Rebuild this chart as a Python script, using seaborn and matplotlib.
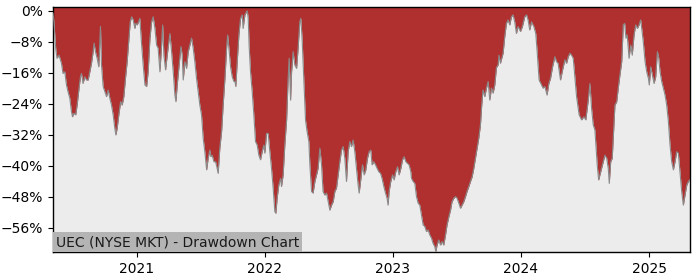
import numpy as np
import pandas as pd
import matplotlib
matplotlib.use("Agg")
import matplotlib.pyplot as plt
import matplotlib.ticker as mticker
import seaborn as sns

title_text = "UEC (NYSE MKT) - Drawdown Chart"
year_ticks = [2021, 2022, 2023, 2024, 2025]
dd_ticks = [0, -8, -16, -24, -32, -40, -48, -56]

# time as decimal year, drawdown in percent
t_years = [
    2020.346, 2020.348, 2020.352, 2020.367, 2020.377, 2020.393, 2020.412, 2020.424, 2020.438, 2020.451,
    2020.463, 2020.477, 2020.490, 2020.498, 2020.508, 2020.523, 2020.534, 2020.549, 2020.560, 2020.568,
    2020.580, 2020.594, 2020.607, 2020.620, 2020.633, 2020.646, 2020.659, 2020.666, 2020.677, 2020.690,
    2020.703, 2020.711, 2020.716, 2020.724, 2020.737, 2020.750, 2020.763, 2020.776, 2020.789, 2020.802,
    2020.815, 2020.828, 2020.836, 2020.846, 2020.859, 2020.873, 2020.885, 2020.898, 2020.912, 2020.924,
    2020.938, 2020.948, 2020.959, 2020.971, 2020.984, 2020.992, 2021.002, 2021.013, 2021.023, 2021.037,
    2021.049, 2021.063, 2021.076, 2021.088, 2021.102, 2021.115, 2021.127, 2021.141, 2021.154, 2021.166,
    2021.180, 2021.193, 2021.201, 2021.211, 2021.224, 2021.237, 2021.250, 2021.258, 2021.271, 2021.284,
    2021.297, 2021.305, 2021.315, 2021.330, 2021.344, 2021.354, 2021.362, 2021.375, 2021.388, 2021.401,
    2021.414, 2021.427, 2021.440, 2021.453, 2021.466, 2021.479, 2021.492, 2021.505, 2021.518, 2021.531,
    2021.545, 2021.557, 2021.570, 2021.578, 2021.588, 2021.602, 2021.615, 2021.627, 2021.635, 2021.648,
    2021.662, 2021.674, 2021.688, 2021.701, 2021.709, 2021.719, 2021.732, 2021.745, 2021.758, 2021.766,
    2021.773, 2021.784, 2021.797, 2021.810, 2021.823, 2021.830, 2021.844, 2021.857, 2021.863, 2021.870,
    2021.877, 2021.888, 2021.901, 2021.914, 2021.927, 2021.940, 2021.953, 2021.966, 2021.979, 2021.992,
    2022.000, 2022.013, 2022.026, 2022.039, 2022.052, 2022.065, 2022.078, 2022.086, 2022.096, 2022.109,
    2022.123, 2022.130, 2022.143, 2022.156, 2022.170, 2022.182, 2022.190, 2022.201, 2022.209, 2022.221,
    2022.234, 2022.248, 2022.260, 2022.273, 2022.281, 2022.291, 2022.305, 2022.318, 2022.330, 2022.344,
    2022.352, 2022.365, 2022.377, 2022.391, 2022.404, 2022.416, 2022.430, 2022.443, 2022.455, 2022.469,
    2022.482, 2022.495, 2022.508, 2022.521, 2022.534, 2022.547, 2022.560, 2022.573, 2022.586, 2022.599,
    2022.612, 2022.625, 2022.638, 2022.651, 2022.664, 2022.677, 2022.690, 2022.703, 2022.716, 2022.729,
    2022.737, 2022.748, 2022.763, 2022.776, 2022.789, 2022.802, 2022.815, 2022.828, 2022.838, 2022.852,
    2022.865, 2022.877, 2022.891, 2022.904, 2022.916, 2022.930, 2022.943, 2022.955, 2022.963, 2022.971,
    2022.984, 2022.998, 2023.010, 2023.023, 2023.037, 2023.049, 2023.063, 2023.076, 2023.088, 2023.102,
    2023.115, 2023.127, 2023.141, 2023.146, 2023.159, 2023.172, 2023.185, 2023.198, 2023.211, 2023.224,
    2023.237, 2023.250, 2023.263, 2023.276, 2023.289, 2023.302, 2023.315, 2023.328, 2023.336, 2023.346,
    2023.359, 2023.373, 2023.385, 2023.398, 2023.412, 2023.424, 2023.438, 2023.451, 2023.463, 2023.477,
    2023.490, 2023.502, 2023.516, 2023.529, 2023.541, 2023.555, 2023.568, 2023.580, 2023.594, 2023.607,
    2023.620, 2023.633, 2023.646, 2023.659, 2023.672, 2023.685, 2023.695, 2023.705, 2023.719, 2023.732,
    2023.745, 2023.758, 2023.771, 2023.784, 2023.797, 2023.810, 2023.823, 2023.830, 2023.841, 2023.862,
    2023.875, 2023.888, 2023.901, 2023.914, 2023.927, 2023.940, 2023.953, 2023.966, 2023.979, 2023.998,
    2024.013, 2024.031, 2024.045, 2024.057, 2024.070, 2024.084, 2024.102, 2024.117, 2024.127, 2024.143,
    2024.162, 2024.174, 2024.188, 2024.205, 2024.219, 2024.232, 2024.248, 2024.266, 2024.279, 2024.291,
    2024.310, 2024.326, 2024.344, 2024.357, 2024.370, 2024.383, 2024.396, 2024.409, 2024.422, 2024.435,
    2024.455, 2024.474, 2024.492, 2024.507, 2024.526, 2024.539, 2024.552, 2024.565, 2024.578, 2024.586,
    2024.596, 2024.607, 2024.617, 2024.630, 2024.643, 2024.656, 2024.670, 2024.682, 2024.690, 2024.701,
    2024.713, 2024.721, 2024.734, 2024.748, 2024.760, 2024.773, 2024.787, 2024.799, 2024.810, 2024.820,
    2024.830, 2024.844, 2024.857, 2024.869, 2024.883, 2024.896, 2024.909, 2024.922, 2024.935, 2024.943,
    2024.955, 2024.969, 2024.982, 2024.995, 2025.002, 2025.013, 2025.026, 2025.039, 2025.052, 2025.065,
    2025.076, 2025.086, 2025.099, 2025.112, 2025.125, 2025.138, 2025.151, 2025.164, 2025.177, 2025.190,
    2025.203, 2025.216, 2025.229, 2025.242, 2025.255, 2025.268, 2025.281, 2025.295, 2025.307, 2025.320,
]

drawdown_pct = [
    -0.5,
    -1.0, -2.3, -9.6, -12.2, -11.4, -13.5, -16.1, -15.7, -19.1, -20.8,
    -22.5, -26.0, -27.3, -26.4, -26.8, -24.3, -19.9, -17.0, -16.1, -18.7,
    -17.0, -17.8, -17.8, -15.7, -13.5, -10.5, -8.3, -10.5, -12.2, -14.4,
    -7.9, -4.0, -13.9, -19.5, -20.8, -22.1, -20.4, -22.5, -24.3, -26.8,
    -30.3, -32.0, -30.3, -26.8, -23.4, -24.3, -22.1, -17.0, -13.1, -7.0,
    -2.8, -1.5, -2.3, -4.5, -3.2, -3.6, -2.8, -1.9, -8.8, -13.9,
    -19.1, -19.5, -15.7, -7.0, -2.8, -1.5, -4.5, -8.8, -9.6, -15.7,
    -8.8, -3.6, -11.4, -15.2, -11.4, -7.9, -5.8, -10.5, -15.7, -21.7,
    -23.4, -19.1, -13.9, -9.2, -11.4, -17.8, -13.1, -14.8, -10.5, -8.8,
    -7.0, -9.6, -13.1, -17.4, -20.8, -24.3, -26.8, -32.8, -36.3, -41.0,
    -38.0, -35.9, -37.6, -37.2, -38.9, -38.9, -40.6, -41.9, -35.4, -31.1,
    -24.3, -17.4, -9.6, -6.2, -9.6, -14.4, -17.0, -18.2, -18.2, -19.5,
    -13.1, -6.2, -1.9, -1.0, -4.5, -1.0, -0.2, 0.0, -1.9, -8.8,
    -15.7, -20.8, -26.8, -33.7, -34.6, -37.2, -38.4, -36.3, -34.6, -36.7,
    -31.6, -31.6, -36.3, -40.6, -45.7, -51.8, -52.2, -48.3, -44.9, -43.2,
    -45.3, -42.3, -34.6, -28.2, -17.4, -12.2, -23.0, -15.7, -10.5, -13.9,
    -14.8, -9.6, -2.8, -1.9, -7.0, -18.2, -28.2, -31.1, -33.7, -39.7,
    -46.6, -47.0, -44.0, -42.3, -40.6, -35.4, -39.7, -46.6, -47.5, -47.0,
    -49.2, -51.4, -50.1, -49.2, -46.6, -45.7, -42.3, -38.9, -35.9, -35.0,
    -38.0, -44.0, -36.3, -33.7, -35.0, -33.3, -36.3, -40.6, -44.9, -47.0,
    -44.0, -39.7, -42.3, -41.0, -38.0, -36.3, -35.9, -39.7, -38.9, -39.7,
    -40.6, -41.5, -41.9, -43.2, -45.3, -47.0, -48.3, -50.1, -46.6, -44.0,
    -42.3, -43.6, -41.5, -40.2, -42.3, -40.6, -38.4, -37.6, -38.9, -39.3,
    -39.7, -41.5, -43.2, -44.0, -44.5, -47.9, -49.6, -50.1, -52.6, -55.2,
    -55.6, -56.9, -56.5, -57.8, -58.6, -60.0, -60.8, -62.1, -60.4, -59.1,
    -60.4, -59.5, -60.4, -57.8, -55.2, -53.1, -51.4, -49.2, -48.3, -47.9,
    -48.3, -49.6, -50.9, -50.1, -49.2, -47.9, -46.6, -45.3, -44.0, -42.8,
    -40.6, -38.0, -35.4, -32.8, -29.4, -24.3, -20.4, -22.1, -19.9, -18.2,
    -23.0, -19.9, -21.2, -19.1, -14.6, -13.9, -11.4, -13.5, -10.9, -6.6,
    -3.2, -2.3, -3.6, -1.5, -1.0, -2.8, -5.8, -4.0, -5.3, -4.0,
    -1.5, -1.0, -2.3, -4.9, -2.8, -4.0, -5.8, -10.1, -17.8, -19.1,
    -19.9, -19.5, -21.7, -18.7, -17.4, -14.4, -11.8, -13.1, -13.5, -17.8,
    -15.2, -12.6, -13.5, -11.8, -10.9, -11.4, -12.2, -17.0, -22.1, -26.8,
    -28.1, -27.3, -28.1, -23.0, -18.7, -25.1, -29.4, -30.7, -34.6, -39.7,
    -43.6, -42.3, -40.6, -38.9, -37.2, -38.0, -40.6, -44.5, -38.9, -38.0,
    -32.8, -24.3, -23.4, -19.9, -16.5, -13.1, -3.6, -3.2, -7.0, -6.2,
    -12.2, -8.8, -11.4, -6.2, -3.6, -4.5, -3.6, -2.3, -4.5, -7.9,
    -13.1, -15.7, -17.4, -19.1, -14.4, -16.5, -18.7, -17.0, -10.5, -12.2,
    -15.7, -18.2, -19.9, -21.7, -24.3, -28.5, -34.6, -38.9, -41.0, -38.9,
    -36.3, -36.7, -41.5, -46.6, -50.1, -47.5, -44.9, -44.0, -43.5,
]


def dec_year_to_dt(y):
    yr = int(np.floor(y))
    start = pd.Timestamp(year=yr, month=1, day=1)
    end = pd.Timestamp(year=yr + 1, month=1, day=1)
    return start + (end - start) * (y - yr)


df = pd.DataFrame({
    "date": [dec_year_to_dt(v) for v in t_years],
    "dd": np.array(drawdown_pct) / 100.0,
})

sns.set_theme(style="ticks")
plt.rcParams["font.family"] = ["DejaVu Sans"]

fig = plt.figure(figsize=(7.0, 2.8), dpi=100)
ax = fig.add_axes([0.0757, 0.10, 0.91, 0.875])
ax.set_facecolor("#ececec")

ax.fill_between(df["date"], df["dd"], 0.05, color="#b03030", linewidth=0, zorder=2)
sns.lineplot(data=df, x="date", y="dd", ax=ax, color="#8a8a8a", linewidth=0.8, zorder=3)

ax.set_xlim(dec_year_to_dt(2020.346), dec_year_to_dt(2025.320))
ax.set_ylim(-0.622, 0.0103)

ax.set_yticks([v / 100 for v in dd_ticks])
ax.yaxis.set_major_formatter(mticker.FuncFormatter(
    lambda v, p: f"{round(v * 100):d}%".replace("-", "\u2212")))
ax.set_xticks([pd.Timestamp(year=y, month=1, day=1) for y in year_ticks])
ax.set_xticklabels([str(y) for y in year_ticks])

ax.set_xlabel("")
ax.set_ylabel("")
ax.tick_params(axis="both", labelsize=10, length=3.5, width=0.8, colors="black",
               direction="out")
for s in ax.spines.values():
    s.set_visible(True)
    s.set_color("black")
    s.set_linewidth(1.0)

ax.text(0.004, 0.012, title_text, transform=ax.transAxes, fontsize=10,
        ha="left", va="bottom", color="#1a1a1a", zorder=5,
        bbox=dict(boxstyle="square,pad=0.2", facecolor="#b4b4b4", edgecolor="none"))

fig.savefig("out.png", dpi=100)
